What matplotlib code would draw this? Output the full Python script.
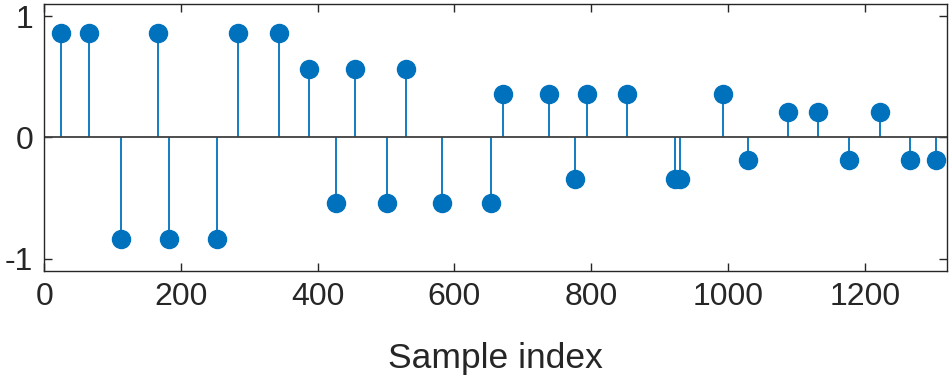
import matplotlib.pyplot as plt

plt.rcParams["font.family"] = ["Liberation Sans", "DejaVu Sans"]
plt.rcParams["axes.unicode_minus"] = False

# sample positions and stem heights
sample_idx = [25, 66, 112, 167, 182, 252, 284, 343, 387, 427,
              455, 502, 529, 581, 653, 671, 738, 776, 794, 852,
              922, 930, 992, 1029, 1088, 1131, 1177, 1223, 1266, 1304]
amplitude = [0.86, 0.86, -0.84, 0.86, -0.84, -0.84, 0.86, 0.86, 0.56, -0.54,
             0.56, -0.54, 0.56, -0.54, -0.54, 0.36, 0.36, -0.34, 0.36, 0.36,
             -0.34, -0.34, 0.36, -0.19, 0.21, 0.21, -0.19, 0.21, -0.19, -0.19]
xticks = [0, 200, 400, 600, 800, 1000, 1200]
yticks = [-1, 0, 1]

blue = "#0072BD"
dark = "#262626"

fig = plt.figure(figsize=(9.5, 3.78), dpi=100)
ax = fig.add_axes([0.0466, 0.2839, 0.95, 0.7055])

markers, stems, base = ax.stem(sample_idx, amplitude, basefmt="-")
plt.setp(stems, color=blue, linewidth=1.3)
plt.setp(markers, color=blue, markersize=13)
plt.setp(base, color="#404040", linewidth=1.3)
base.set_xdata([0, 1320])

ax.set_xlim(0, 1320)
ax.set_ylim(-1.1, 1.1)
ax.set_xticks(xticks)
ax.set_yticks(yticks)
ax.tick_params(direction="in", length=6, width=1.0, colors=dark,
               labelsize=23, top=True, right=True, pad=8)
for s in ax.spines.values():
    s.set_color(dark)
    s.set_linewidth(1.0)
ax.set_xlabel("Sample index", fontsize=25.5, color=dark, labelpad=22)

plt.savefig("out.png", dpi=100)
